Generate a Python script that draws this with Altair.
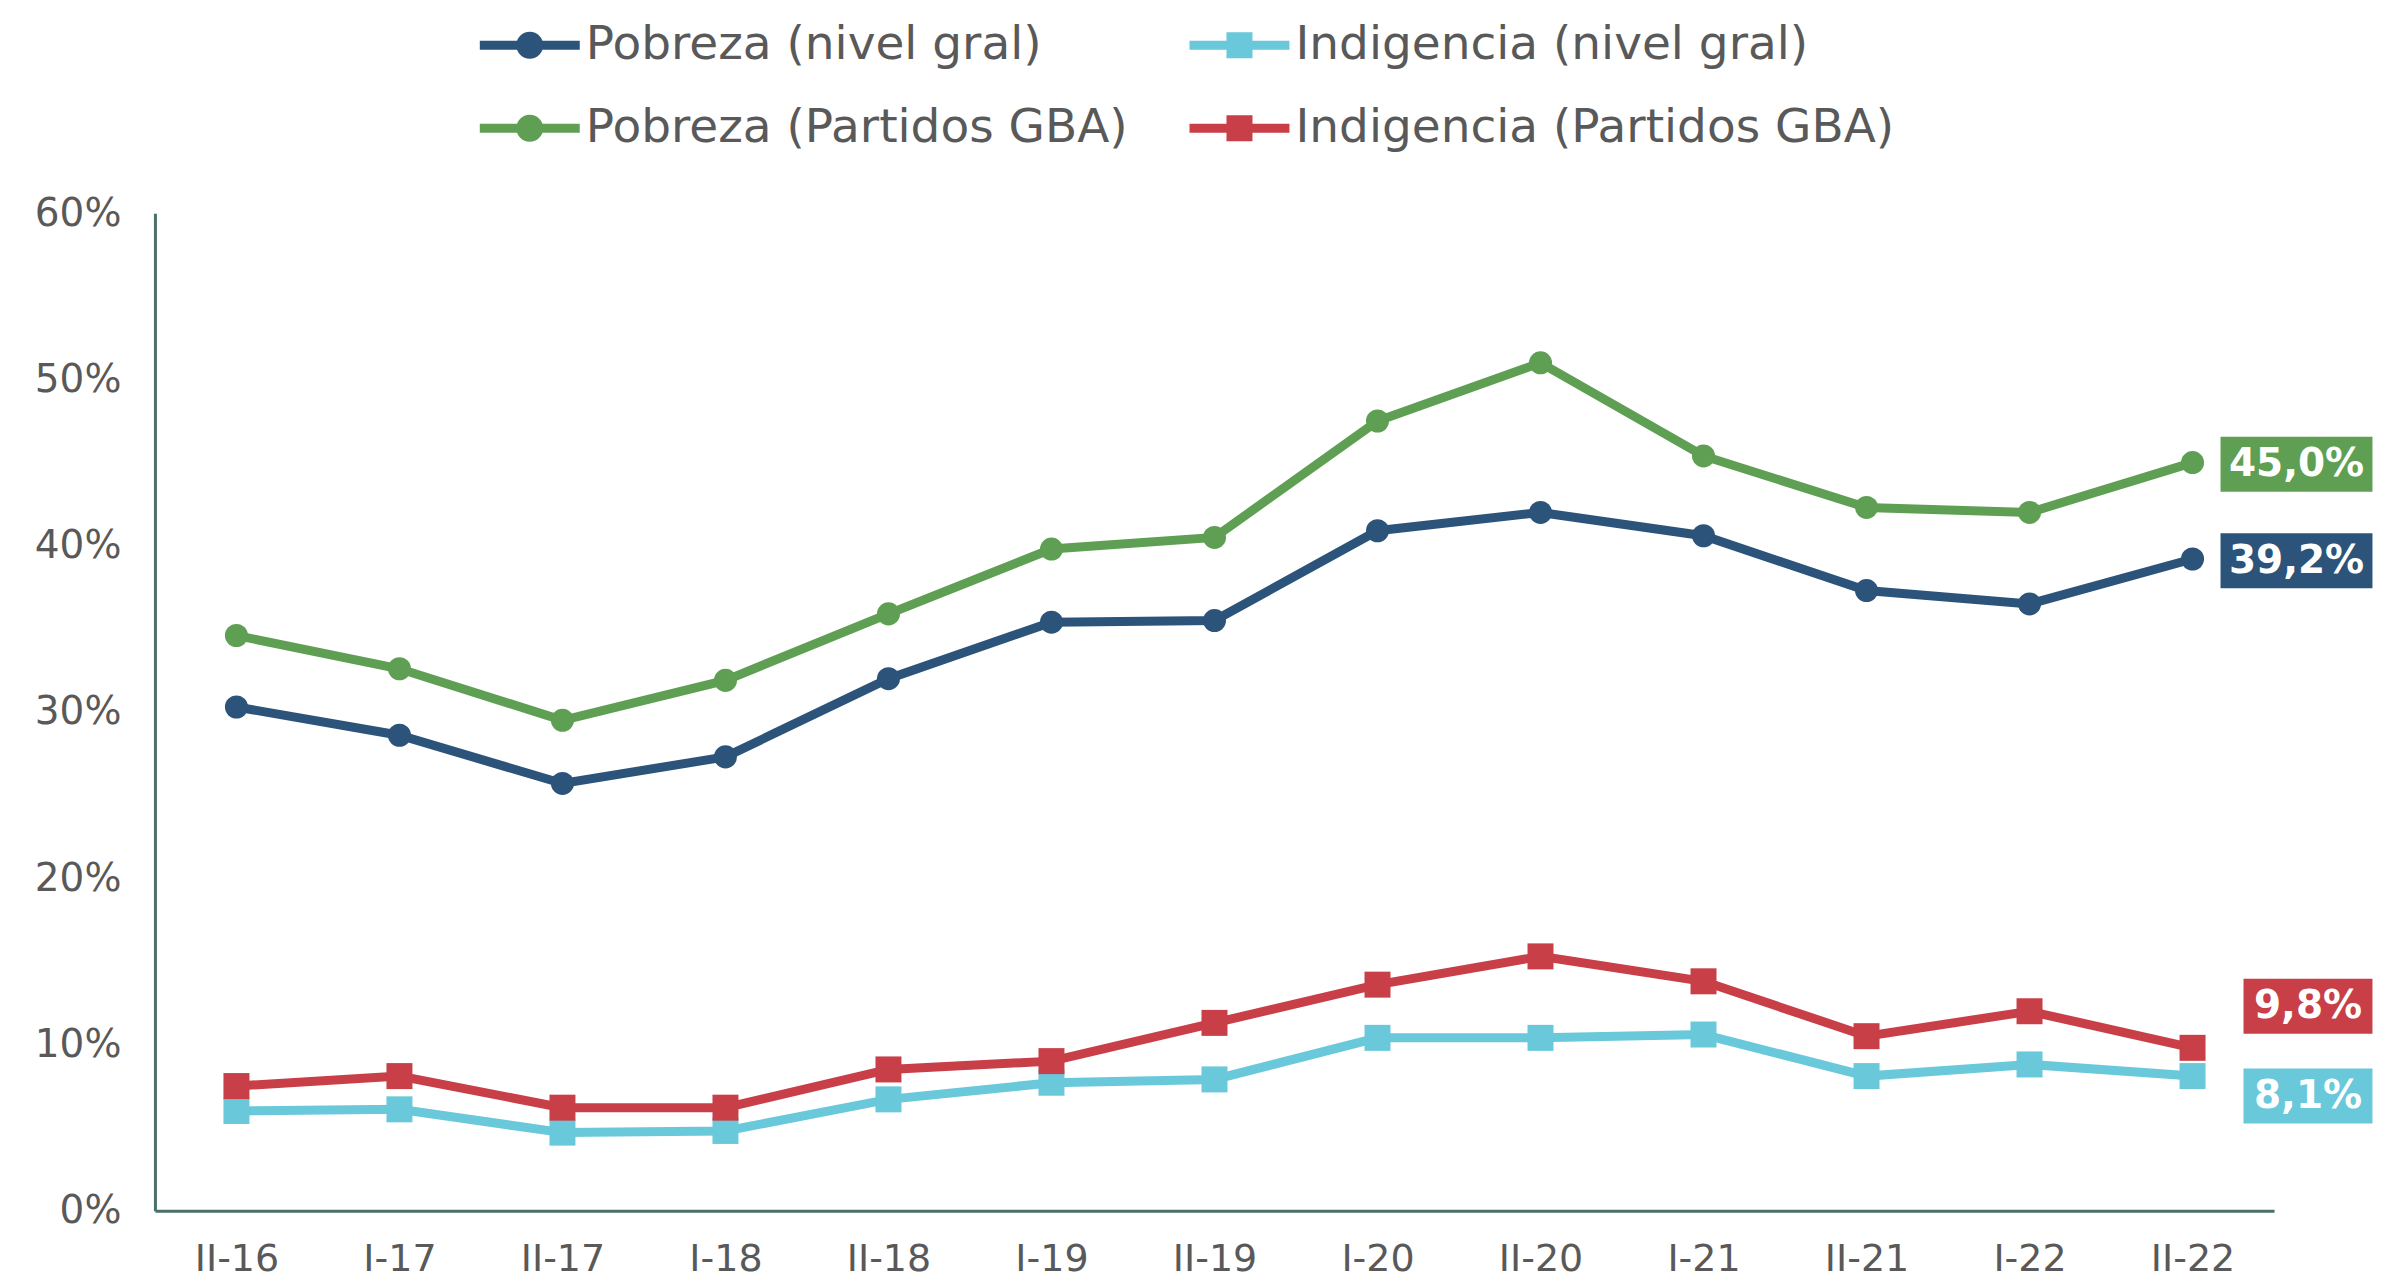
import altair as alt
import pandas as pd

periodos = ["II-16", "I-17", "II-17", "I-18", "II-18", "I-19", "II-19",
            "I-20", "II-20", "I-21", "II-21", "I-22", "II-22"]

pobreza_gral = [30.3, 28.6, 25.7, 27.3, 32.0, 35.4, 35.5, 40.9, 42.0, 40.6, 37.3, 36.5, 39.2]
indigencia_gral = [6.0, 6.1, 4.7, 4.8, 6.7, 7.7, 7.9, 10.4, 10.4, 10.6, 8.1, 8.8, 8.1]
pobreza_gba = [34.6, 32.6, 29.5, 31.9, 35.9, 39.8, 40.5, 47.5, 51.0, 45.4, 42.3, 42.0, 45.0]
indigencia_gba = [7.5, 8.1, 6.2, 6.2, 8.5, 9.0, 11.3, 13.6, 15.3, 13.8, 10.5, 12.0, 9.8]

series = ["Pobreza (nivel gral)", "Indigencia (nivel gral)",
          "Pobreza (Partidos GBA)", "Indigencia (Partidos GBA)"]
colores = ["#2C5379", "#69C8DA", "#5F9F53", "#C83F48"]
tipos = ["Pobreza", "Indigencia", "Pobreza", "Indigencia"]

# end labels
etiquetas = ["39,2%", "8,1%", "45,0%", "9,8%"]
etiqueta_y = [39.1, 6.9, 44.9, 12.3]

valores = [pobreza_gral, indigencia_gral, pobreza_gba, indigencia_gba]

rows = []
for s, t, vals in zip(series, tipos, valores):
    for p, v in zip(periodos, vals):
        rows.append({"periodo": p, "serie": s, "tipo": t, "valor": v})
df = pd.DataFrame(rows)

lab = pd.DataFrame({
    "periodo": [periodos[-1]] * 4,
    "serie": series,
    "tipo": tipos,
    "texto": etiquetas,
    "ly": etiqueta_y,
})

FONT = "DejaVu Sans"
TXT = "#595959"
AX = "#4A7068"

x_enc = alt.X("periodo:N", sort=periodos,
              scale=alt.Scale(type="point", padding=0.5),
              axis=alt.Axis(title=None, labelAngle=0, ticks=False, grid=False,
                            domainColor=AX, domainWidth=3, labelFontSize=38,
                            labelColor=TXT, labelFont=FONT, labelPadding=30))
y_enc = alt.Y("valor:Q", scale=alt.Scale(domain=[0, 60], nice=False),
              axis=alt.Axis(title=None, values=[0, 10, 20, 30, 40, 50, 60],
                            labelExpr="datum.value + '%'", ticks=False, grid=False,
                            domainColor=AX, domainWidth=3, labelFontSize=39,
                            labelColor=TXT, labelFont=FONT, labelPadding=34))

path_circ = ("M-2,-0.18H2V0.18H-2Z "
             "M0.54,0A0.54,0.54 0 1,1 -0.54,0A0.54,0.54 0 1,1 0.54,0Z")
path_sq = ("M-2,-0.18H2V0.18H-2Z "
           "M-0.52,-0.52H0.52V0.52H-0.52Z")
shapes = [path_circ if t == "Pobreza" else path_sq for t in tipos]

leg = alt.Legend(
    title=None, orient="none", legendX=350, legendY=-193,
    columns=2, direction="horizontal",
    symbolSize=2500, symbolOpacity=1, symbolStrokeWidth=0,
    labelFontSize=47, labelFont=FONT, labelColor=TXT,
    labelOffset=31, columnPadding=61, rowPadding=35,
    labelLimit=1000,
)
color_enc = alt.Color("serie:N", scale=alt.Scale(domain=series, range=colores), legend=leg)

base = alt.Chart(df)

lines = base.mark_line(strokeWidth=9).encode(x=x_enc, y=y_enc, color=color_enc)
circles = base.transform_filter(alt.datum.tipo == "Pobreza").mark_circle(
    size=531, opacity=1).encode(x=x_enc, y=y_enc, color=color_enc)
squares = base.transform_filter(alt.datum.tipo == "Indigencia").mark_square(
    size=676, opacity=1).encode(x=x_enc, y=y_enc, color=color_enc)

legend_layer = base.mark_point(filled=True, opacity=0, strokeWidth=0).encode(
    x=x_enc, y=y_enc,
    color=color_enc,
    shape=alt.Shape("serie:N", scale=alt.Scale(domain=series, range=shapes), legend=leg),
)

lab_base = alt.Chart(lab)
x_lab = alt.X("periodo:N", sort=periodos)
y_lab = alt.Y("ly:Q")

box_p = lab_base.transform_filter(alt.datum.tipo == "Pobreza").mark_rect(
    width=152, height=55, xOffset=104).encode(x=x_lab, y=y_lab, color=color_enc)
box_i = lab_base.transform_filter(alt.datum.tipo == "Indigencia").mark_rect(
    width=129, height=55, xOffset=115.5).encode(x=x_lab, y=y_lab, color=color_enc)
txt_p = lab_base.transform_filter(alt.datum.tipo == "Pobreza").mark_text(
    xOffset=104, font=FONT, fontSize=39, fontWeight="bold", color="white",
    align="center", baseline="middle").encode(x=x_lab, y=y_lab, text="texto:N")
txt_i = lab_base.transform_filter(alt.datum.tipo == "Indigencia").mark_text(
    xOffset=115.5, font=FONT, fontSize=39, fontWeight="bold", color="white",
    align="center", baseline="middle").encode(x=x_lab, y=y_lab, text="texto:N")

chart = alt.layer(lines, circles, squares, legend_layer, box_p, box_i, txt_p, txt_i).properties(
    width=2120, height=998, background="white",
    padding={"left": 26, "top": 12, "right": 0, "bottom": 0},
).configure_view(stroke=None)

chart.save("out.html", embed_options={"renderer": "svg", "actions": False})
